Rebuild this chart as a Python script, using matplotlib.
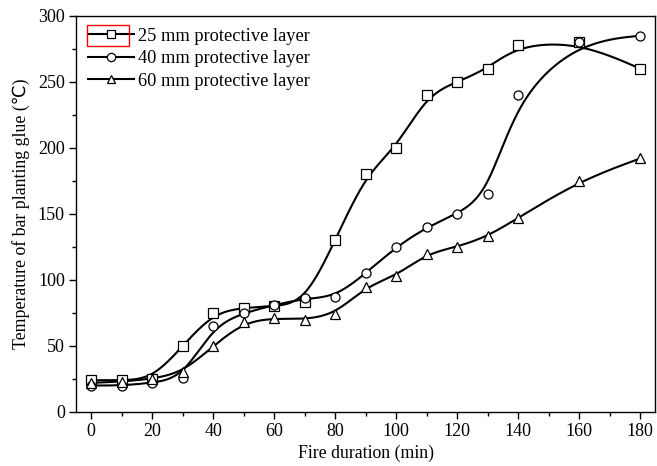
import numpy as np
import matplotlib
matplotlib.use("Agg")
import matplotlib.pyplot as plt
from matplotlib.patches import Rectangle
from matplotlib.ticker import MultipleLocator

plt.rcParams['font.family'] = ['Liberation Serif', 'DejaVu Sans']

time = [0, 10, 20, 30, 40, 50, 60, 70, 80, 90, 100, 110, 120, 130, 140, 160, 180]
t25 = [24, 24, 25, 50, 75, 79, 80, 83, 130, 180, 200, 240, 250, 260, 278, 280, 260]
t40 = [20, 20, 22, 26, 65, 75, 81, 86, 87, 105, 125, 140, 150, 165, 240, 280, 285]
t60 = [22, 23, 25, 30, 50, 68, 71, 70, 74, 95, 103, 120, 125, 133, 147, 175, 192]
labels = ["25 mm protective layer", "40 mm protective layer", "60 mm protective layer"]
markers = ["s", "o", "^"]

def bspline(x, y, n=30):
    # uniform cubic B-spline, data points as control points, clamped ends
    px = np.r_[x[0], x[0], x, x[-1], x[-1]].astype(float)
    py = np.r_[y[0], y[0], y, y[-1], y[-1]].astype(float)
    t = np.linspace(0, 1, n, endpoint=False)
    b0 = (1 - t) ** 3 / 6
    b1 = (3 * t**3 - 6 * t**2 + 4) / 6
    b2 = (-3 * t**3 + 3 * t**2 + 3 * t + 1) / 6
    b3 = t**3 / 6
    xs, ys = [], []
    for i in range(len(px) - 3):
        xs.append(b0 * px[i] + b1 * px[i+1] + b2 * px[i+2] + b3 * px[i+3])
        ys.append(b0 * py[i] + b1 * py[i+1] + b2 * py[i+2] + b3 * py[i+3])
    xs.append([px[-1]])
    ys.append([py[-1]])
    return np.concatenate(xs), np.concatenate(ys)

fig = plt.figure(figsize=(6.57, 4.66), dpi=100)
ax = fig.add_axes([0.1157, 0.116, 0.882, 0.85])

for ys, lab, m in zip([t25, t40, t60], labels, markers):
    sx, sy = bspline(time, ys)
    ax.plot(sx, sy, color="black", lw=1.5, zorder=2)
    ax.plot(time, ys, ls="none", marker=m, ms=6.5, mfc="white", mec="black", mew=0.9, zorder=3)
    ax.plot([], [], color="black", lw=1.5, marker=m, ms=6, mfc="white", mec="black", mew=0.9, label=lab)

ax.set_xlim(-5, 185)
ax.set_ylim(0, 300)
ax.xaxis.set_major_locator(MultipleLocator(20))
ax.xaxis.set_minor_locator(MultipleLocator(10))
ax.yaxis.set_major_locator(MultipleLocator(50))
ax.yaxis.set_minor_locator(MultipleLocator(25))
ax.tick_params(which="major", length=5, width=1, labelsize=13, direction="out", pad=3)
ax.tick_params(which="minor", length=3, width=1, direction="out")
for s in ax.spines.values():
    s.set_linewidth(1)

ax.set_xlabel("Fire duration (min)", fontsize=12.8, labelpad=3)
ax.set_ylabel("Temperature of bar planting glue (\u2103)", fontsize=12.8, labelpad=6)

leg = ax.legend(loc="upper left", frameon=False, fontsize=13.2, handlelength=2.5,
                handletextpad=0.25, labelspacing=0.3, borderaxespad=0.25,
                bbox_to_anchor=(0.0, 1.0))

r = Rectangle((87, 466 - 46), 42, 21, transform=None, fill=False, edgecolor="red", lw=1)
fig.patches.append(r)

fig.savefig("out.png", dpi=100)
